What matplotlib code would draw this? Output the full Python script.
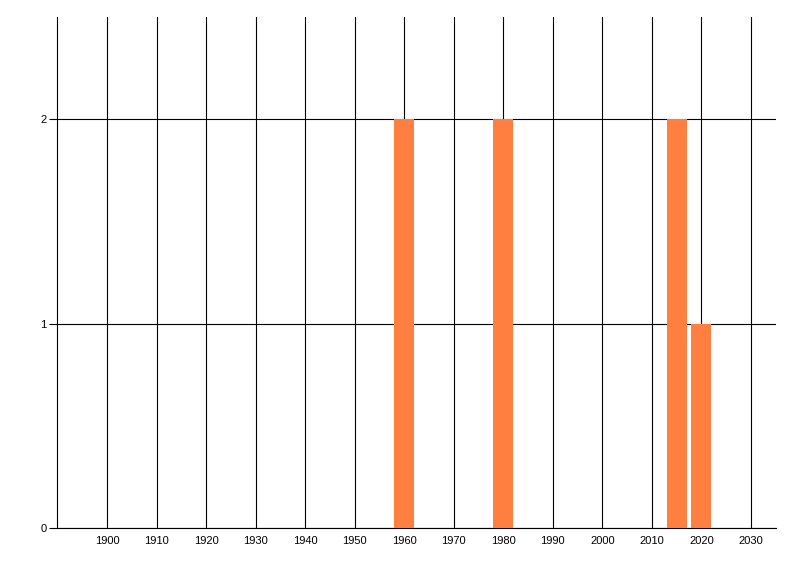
import matplotlib
matplotlib.use("Agg")
import matplotlib.pyplot as plt

years = [1960, 1980, 2015, 2020]
counts = [2, 2, 2, 1]
x_ticks = list(range(1900, 2031, 10))
y_ticks = [0, 1, 2]

plt.rcParams['font.family'] = ['Liberation Sans', 'DejaVu Sans']

fig = plt.figure(figsize=(8, 5.76), dpi=100)
ax = fig.add_axes([57.5/800, 48/576, (775.7-57.5)/800, (528-17)/576])

ax.bar(years, counts, width=4, color='#FF7F40', zorder=3, linewidth=0)

ax.set_xlim(1890, 2035)
ax.set_ylim(0, 2.5)
ax.set_xticks(x_ticks)
ax.set_xticklabels([str(t) for t in x_ticks])
ax.set_yticks(y_ticks)
ax.set_yticklabels([str(t) for t in y_ticks])

ax.grid(True, color='black', linewidth=0.8, zorder=1)
ax.set_axisbelow(True)
for s in ['top', 'right']:
    ax.spines[s].set_visible(False)
for s in ['left', 'bottom']:
    ax.spines[s].set_linewidth(0.8)
    ax.spines[s].set_color('black')

ax.tick_params(axis='x', length=0, pad=6, labelsize=8)
ax.tick_params(axis='y', length=6, width=0.8, pad=2, labelsize=8)

fig.savefig('out.png', dpi=100)
